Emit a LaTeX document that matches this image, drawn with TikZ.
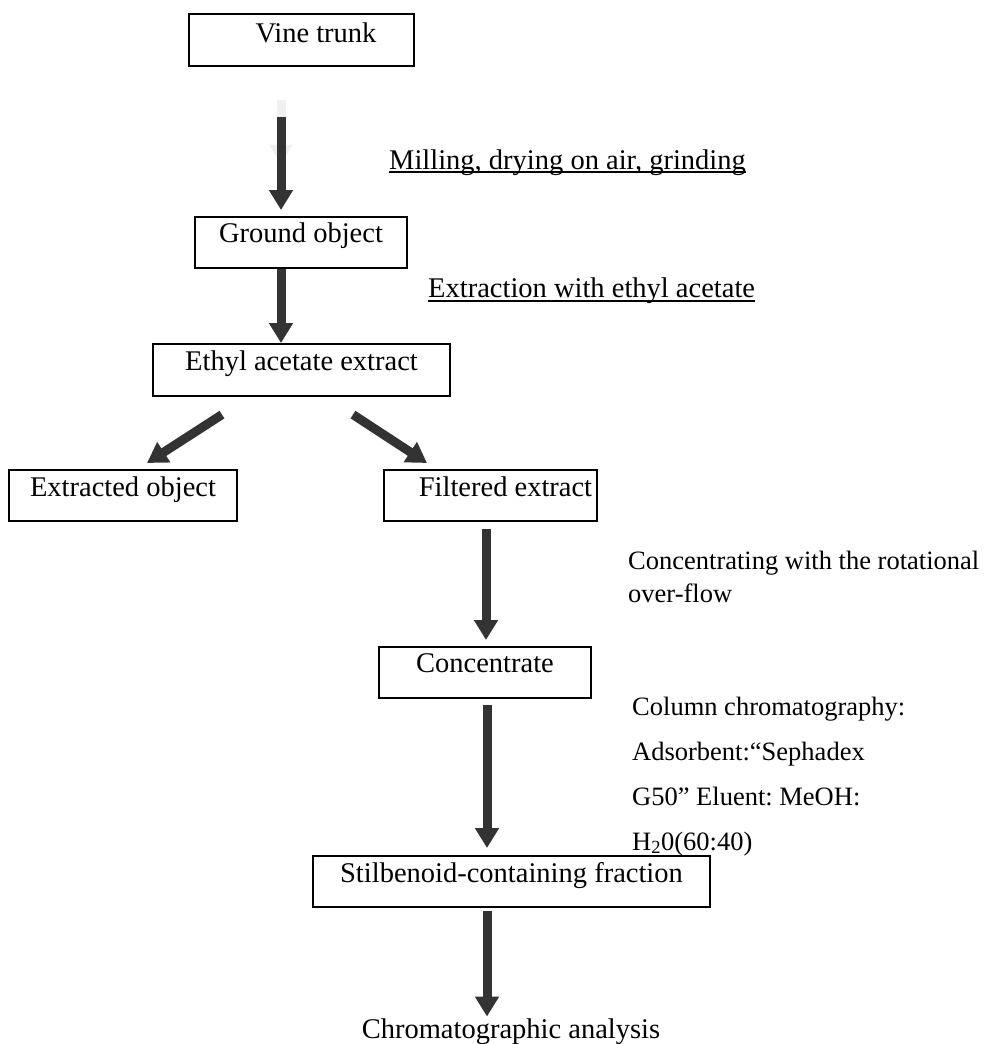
\documentclass[tikz,border=0pt]{standalone}
\usepackage{fontspec}
\setmainfont{Liberation Serif}
\usetikzlibrary{arrows.meta}
\frenchspacing

\tikzset{
  box/.style={draw, line width=1.6pt, inner sep=0pt, text height=27pt, text depth=24pt, anchor=north},
  flow/.style={draw=black!80, line width=9pt, -{Triangle[width=23pt,length=20pt]}},
  ghost/.style={draw=black!6, line width=9pt, -{Triangle[width=22pt,length=20pt]}},
  step label/.style={inner sep=0pt, anchor=base west},
  note/.style={inner sep=0pt, anchor=base west, align=left, font=\fontsize{26.5}{45}\selectfont},
  uline/.style={line width=1.3pt},
}

\begin{document}
\begin{tikzpicture}[x=1pt, y=-1pt, every node/.style={font=\fontsize{28.5}{34}\selectfont}]
\useasboundingbox (0,0) rectangle (984,1044);
% boxes
\node[box, minimum width=225pt, text height=29pt, text depth=23pt] (vine) at (301.5,13) {\hspace*{29pt}Vine trunk};
\node[box, minimum width=212pt, text height=26pt, text depth=25pt] (ground) at (301,216) {Ground object};
\node[box, minimum width=297pt, text depth=25pt] (ethyl) at (301.5,343) {Ethyl acetate extract};
\node[box, minimum width=228pt] (extracted) at (123,469) {Extracted object};
\node[box, minimum width=213pt] (filtered) at (490.5,469) {\hspace*{30pt}Filtered extract};
\node[box, minimum width=212pt, text height=26pt, text depth=25pt] (concentrate) at (485,646) {Concentrate};
\node[box, minimum width=397pt] (stilbenoid) at (511.5,855) {Stilbenoid-containing fraction};
\node[inner sep=0pt, anchor=base] (analysis) at (511,1038) {Chromatographic analysis};
% step labels (multi-line notes sit on their last line)
\node[step label] (milling) at (389,169) {Milling, drying on air, grinding};
\draw[uline] ([yshift=-3pt]milling.base west) -- ([yshift=-3pt]milling.base east);
\node[step label] (extraction) at (428,297) {Extraction with ethyl acetate};
\draw[uline] ([yshift=-4pt]extraction.base west) -- ([yshift=-4pt]extraction.base east);
\node[note, font=\fontsize{26.5}{33}\selectfont] (rotary) at (628,602) {Concentrating with the rotational\\over-flow};
\node[note] (column) at (632,850) {Column chromatography:\\Adsorbent:“Sephadex\\G50” Eluent: MeOH:\\H\textsubscript{2}0(60:40)};
% arrows
\draw[ghost, shorten <=33pt] ([xshift=-20.5pt]vine.south) -- ++(0,98);
\draw[flow, shorten <=50pt, shorten >=6pt] ([xshift=-20.5pt]vine.south) -- ([xshift=-20.5pt]vine.south |- ground.north);
\draw[flow] ([xshift=-20pt]ground.south) -- ([xshift=-20pt]ground.south |- ethyl.north);
\draw[flow] ([xshift=-79.5pt,yshift=-18pt]ethyl.south) -- ([xshift=24pt,yshift=6pt]extracted.north);
\draw[flow] ([xshift=51.5pt,yshift=-18pt]ethyl.south) -- ([xshift=-63.5pt,yshift=6pt]filtered.north);
\draw[flow, shorten <=7pt, shorten >=6pt] ([xshift=-4.5pt]filtered.south) -- ([xshift=-4.5pt]filtered.south |- concentrate.north);
\draw[flow, shorten <=6pt, shorten >=7pt] ([xshift=2pt]concentrate.south) -- ([xshift=2pt]concentrate.south |- stilbenoid.north);
\draw[flow, shorten <=3pt, shorten >=1.5pt] ([xshift=-24.5pt]stilbenoid.south) -- ([xshift=-24.5pt]stilbenoid.south |- analysis.north);
\end{tikzpicture}
\end{document}
